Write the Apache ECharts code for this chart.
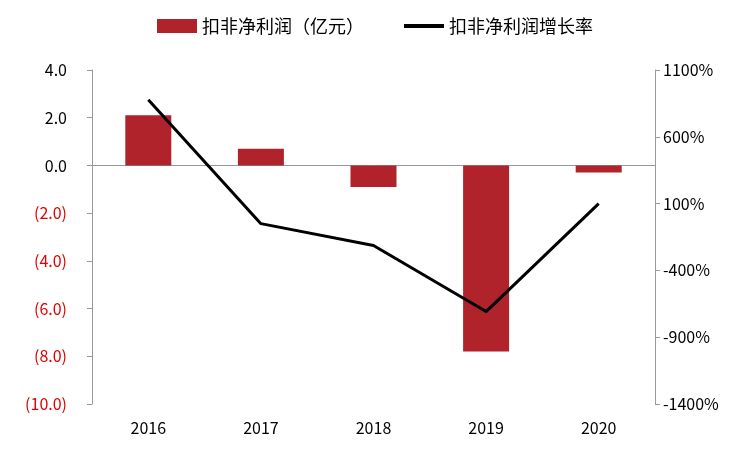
<!DOCTYPE html>
<html><head><meta charset="utf-8">
<script src="https://cdn.jsdelivr.net/npm/echarts@6/dist/echarts.min.js"></script>
<style>html,body{margin:0;background:#fff}#c{width:750px;height:450px}</style>
</head><body><div id="c"></div>
<script>
const categories = ['2016','2017','2018','2019','2020'];
const profit = [2.1, 0.7, -0.9, -7.8, -0.3];
const growth = [878, -50, -214, -708, 100];
const leftTicks = {min:-10, max:4, interval:2};
const rightTicks = {min:-1400, max:1100, interval:500};

const chart = echarts.init(document.getElementById('c'));
const font = '"Noto Sans CJK SC", "DejaVu Sans", sans-serif';
chart.setOption({
  animation:false,
  textStyle:{fontFamily:font},
  legend:{top:12, left:'center', itemGap:40, textStyle:{fontSize:18, color:'#000', fontFamily:font},
    data:[{name:'扣非净利润（亿元）', icon:'rect', itemStyle:{color:'#B0232A'}},
          {name:'扣非净利润增长率', icon:'path://M0,0H30V3H0Z'}],
    itemWidth:40, itemHeight:14},
  grid:{left:92, right:95, top:70, bottom:46},
  xAxis:{type:'category', data:categories,
    axisLine:{onZero:true, lineStyle:{color:'#999'}}, axisTick:{show:false},
    axisLabel:{position:'bottom', color:'#000', fontSize:16, margin:16}},
  yAxis:[
    {type:'value', min:leftTicks.min, max:leftTicks.max, interval:leftTicks.interval,
     splitLine:{show:false}, axisLine:{show:true, lineStyle:{color:'#999'}},
     axisTick:{show:true, inside:false, length:5, lineStyle:{color:'#999'}},
     axisLabel:{fontSize:16, margin:25,
       formatter:v=> v<0 ? '{r|('+Math.abs(v).toFixed(1)+')}' : '{b|'+v.toFixed(1)+'}',
       rich:{r:{color:'#E00000', fontSize:16, fontFamily:font}, b:{color:'#000', fontSize:16, fontFamily:font}}}},
    {type:'value', min:rightTicks.min, max:rightTicks.max, interval:rightTicks.interval,
     splitLine:{show:false}, axisLine:{show:true, lineStyle:{color:'#999'}},
     axisTick:{show:true, length:5, lineStyle:{color:'#999'}},
     axisLabel:{fontSize:16, color:'#000', formatter:v=> v + '%'}}
  ],
  series:[
    {name:'扣非净利润（亿元）', type:'bar', data:profit, barWidth:46, itemStyle:{color:'#B0232A'}},
    {name:'扣非净利润增长率', type:'line', yAxisIndex:1, data:growth, symbol:'none',
     lineStyle:{color:'#000', width:3}, itemStyle:{color:'#000'}}
  ]
});
</script></body></html>
